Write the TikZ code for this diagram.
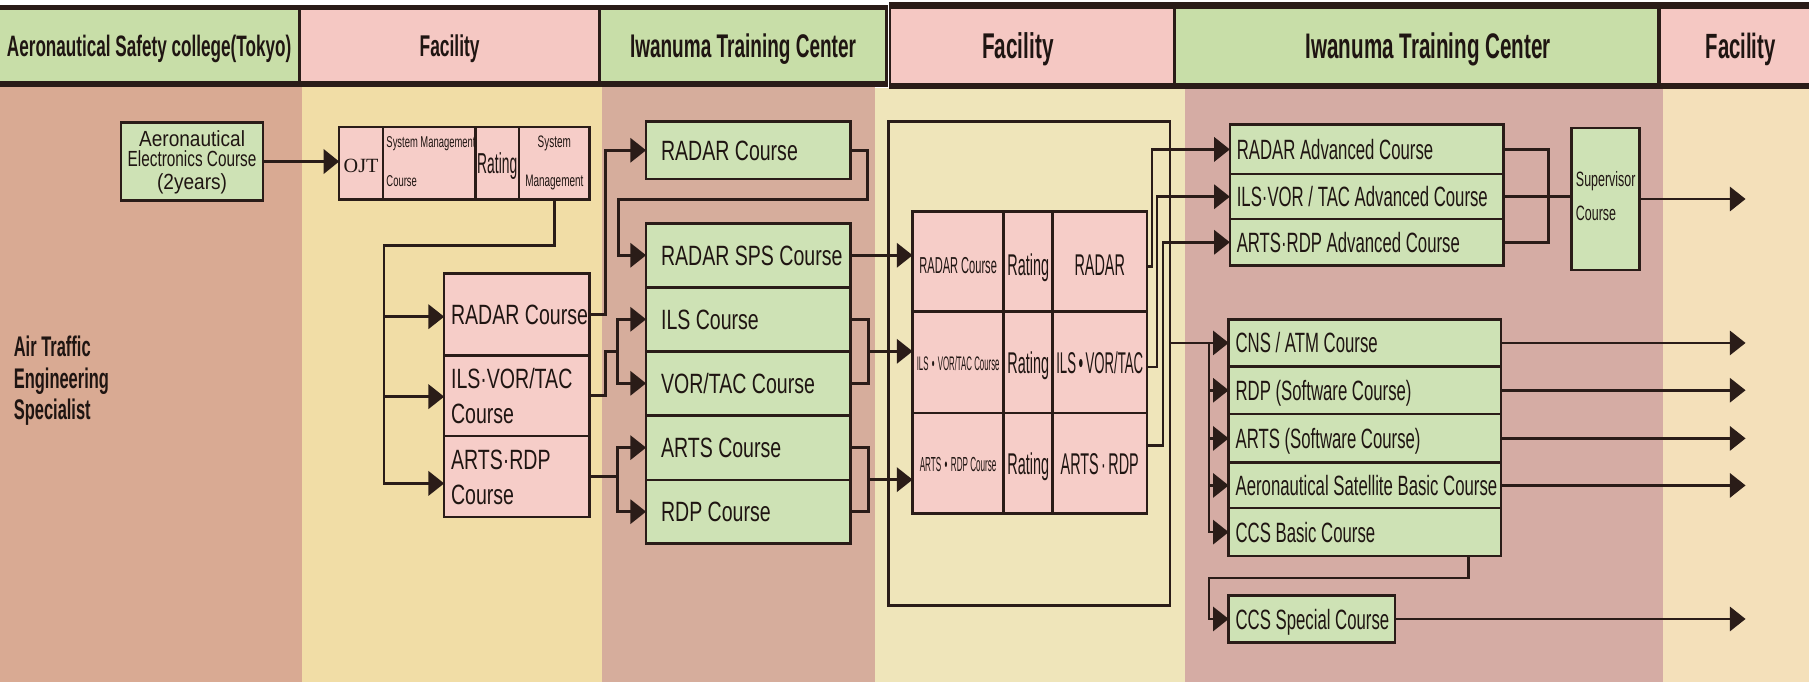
\documentclass[tikz,border=0pt]{standalone}
\usepackage{fontspec}
\setmainfont{Liberation Sans}
\newfontfamily\fA[FakeStretch=0.70]{Liberation Sans}
\newfontfamily\fB[FakeStretch=0.60]{Liberation Sans}
\newfontfamily\fC[FakeStretch=0.48]{Liberation Sans}
\newfontfamily\fD[FakeStretch=0.40]{Liberation Sans}
\newfontfamily\fG[FakeStretch=0.44]{Liberation Sans}
\newfontfamily\fF[FakeStretch=0.87]{Liberation Sans}
\newfontfamily\fH[FakeStretch=0.58]{Liberation Sans}
\newfontfamily\fS{Liberation Serif}
\usetikzlibrary{arrows.meta,calc}
\newcommand\fs[1]{\fontsize{#1}{#1}\selectfont}
\definecolor{bgA}{HTML}{D9AA93}
\definecolor{bgB}{HTML}{F1DDA6}
\definecolor{bgC}{HTML}{D6AD9C}
\definecolor{bgD}{HTML}{EFE5BA}
\definecolor{bgE}{HTML}{D5ACA4}
\definecolor{bgF}{HTML}{F4E0BA}
\definecolor{hg}{HTML}{C8DEA8}
\definecolor{hp}{HTML}{F5C8C3}
\definecolor{gf}{HTML}{CEE2B5}
\definecolor{pf}{HTML}{F6CDC8}
\definecolor{lc}{HTML}{2A1C18}
\definecolor{tc}{HTML}{1F1512}
\newcommand\bx[6]{\node[#6, minimum width={(#4-#2)*0.5pt}, minimum height={(#5-#3)*0.5pt}] (#1) at ({(#2+#4)/2},{(#3+#5)/2}) {};}
\newcommand\tx[5]{\node[t,anchor=#2,font=#3] (#1) at (#4) {#5};}
\begin{document}
\begin{tikzpicture}[x=0.5pt,y=-0.5pt,
  box/.style={draw=lc, line width=1.1pt, inner sep=0pt, outer sep=0pt, rectangle},
  gbox/.style={box, fill=gf},
  pbox/.style={box, fill=pf},
  hbox/.style={inner sep=0pt, outer sep=0pt, rectangle},
  t/.style={inner sep=0pt, outer sep=0pt, text=tc},
  ln/.style={draw=lc, line width=1.1pt},
  arr/.style={ln, -{Triangle[length=6.8pt,width=10.5pt]}}]
\useasboundingbox (0,0) rectangle (1568,595.5);
\fill[white] (0,0) rectangle (1568,595.5);
% body columns
\fill[bgA] (0,75) rectangle (262,591);
\fill[bgB] (262,75) rectangle (522,591);
\fill[bgC] (522,75) rectangle (758,591);
\fill[bgD] (758,76) rectangle (1027,591);
\fill[bgE] (1027,76) rectangle (1441,591);
\fill[bgF] (1441,76) rectangle (1568,591);
% header bands
\fill[lc] (0,4) rectangle (769.5,75);
\fill[lc] (770.5,2) rectangle (1568,77);
\bx{h1}{0}{9}{258.5}{70}{hbox,fill=hg}
\bx{h2}{261}{9}{518.5}{70}{hbox,fill=hp}
\bx{h3}{521}{9}{767}{70}{hbox,fill=hg}
\bx{h4}{772}{8}{1016.5}{72}{hbox,fill=hp}
\bx{h5}{1019.5}{8}{1436.5}{72}{hbox,fill=hg}
\bx{h6}{1439.5}{8}{1568}{72}{hbox,fill=hp}
\tx{ht1}{base}{\fH\bfseries\fs{12.8}}{$(h1.center)+(0,9.2)$}{Aeronautical Safety college(Tokyo)}
\tx{ht2}{base}{\fH\bfseries\fs{13}}{$(h2.center)+(0,9.3)$}{Facility}
\tx{ht3}{base}{\fH\bfseries\fs{14.2}}{$(h3.center)+(0,10.2)$}{Iwanuma Training Center}
\tx{ht4}{base}{\fH\bfseries\fs{15.5}}{$(h4.center)+(-12,11.1)$}{Facility}
\tx{ht5}{base}{\fH\bfseries\fs{15.4}}{$(h5.center)+(10,11.1)$}{Iwanuma Training Center}
\tx{ht6}{base}{\fH\bfseries\fs{15.2}}{$(h6.center)+(5,11.1)$}{Facility}
% left label
\tx{lab1}{base west}{\fH\bfseries\fs{12.3}}{12,309}{Air Traffic}
\tx{lab2}{base west}{\fH\bfseries\fs{12.3}}{12,336.5}{Engineering}
\tx{lab3}{base west}{\fH\bfseries\fs{12.3}}{12,364}{Specialist}
% frame
\bx{frame}{770}{105.5}{1014}{525}{box}
% aeronautical electronics course
\bx{aec}{105}{106}{228}{174}{gbox}
\tx{ae1}{base}{\fF\fs{9.5}}{$(aec.north)+(0,21)$}{Aeronautical}
\tx{ae2}{base}{\fA\fs{9.5}}{$(aec.north)+(0,38.5)$}{Electronics Course}
\tx{ae3}{base}{\fF\fs{9.5}}{$(aec.north)+(0,58.5)$}{(2years)}
% OJT row
\bx{o1}{294}{110}{332}{173}{pbox}
\bx{o2}{332}{110}{412}{173}{pbox}
\bx{o3}{412}{110}{450}{173}{pbox}
\bx{o4}{450}{110}{511}{173}{pbox}
\tx{ot1}{base}{\fS\fs{8.75}}{$(o1.center)+(0,8)$}{OJT}
\tx{ot2}{base west}{\fB\fs{6.8}}{$(o2.north west)+(3,18)$}{System Management}
\tx{ot3}{base west}{\fB\fs{6.8}}{$(o2.north west)+(3,52)$}{Course}
\tx{ot4}{base}{\fC\fs{12.5}}{$(o3.center)+(0,8.8)$}{Rating}
\tx{ot5}{base}{\fB\fs{7.2}}{$(o4.north)+(0,18)$}{System}
\tx{ot6}{base}{\fB\fs{7.2}}{$(o4.north)+(0,52)$}{Management}
% pink stack
\bx{pr1}{385}{237}{511}{308}{pbox}
\bx{pr2}{385}{308}{511}{378}{pbox}
\bx{pr3}{385}{378}{511}{448}{pbox}
\tx{pt1}{base west}{\fA\fs{12.1}}{$(pr1.west)+(6,9)$}{RADAR Course}
\tx{pt2}{base west}{\fA\fs{12.1}}{391,336.5}{ILS·VOR/TAC}
\tx{pt3}{base west}{\fA\fs{12.1}}{391,367}{Course}
\tx{pt4}{base west}{\fA\fs{12.1}}{391,407}{ARTS·RDP}
\tx{pt5}{base west}{\fA\fs{12.1}}{391,437.5}{Course}
% column 2 green
\bx{g0}{560}{105.5}{737}{155}{gbox}
\bx{g1}{560}{193.5}{737}{249}{gbox}
\bx{g2}{560}{249}{737}{304.5}{gbox}
\bx{g3}{560}{304.5}{737}{360}{gbox}
\bx{g4}{560}{360}{737}{416}{gbox}
\bx{g5}{560}{416}{737}{471}{gbox}
\tx{gt0}{base west}{\fA\fs{12.1}}{$(g0.west)+(13,8.7)$}{RADAR Course}
\tx{gt1}{base west}{\fA\fs{12.1}}{$(g1.west)+(13,8.7)$}{RADAR SPS Course}
\tx{gt2}{base west}{\fA\fs{12.1}}{$(g2.west)+(13,8.7)$}{ILS Course}
\tx{gt3}{base west}{\fA\fs{12.1}}{$(g3.west)+(13,8.7)$}{VOR/TAC Course}
\tx{gt4}{base west}{\fA\fs{12.1}}{$(g4.west)+(13,8.7)$}{ARTS Course}
\tx{gt5}{base west}{\fA\fs{12.1}}{$(g5.west)+(13,8.7)$}{RDP Course}
% rating table
\bx{t11}{791}{183.5}{870}{270}{pbox}
\bx{t12}{870}{183.5}{912.5}{270}{pbox}
\bx{t13}{912.5}{183.5}{994}{270}{pbox}
\bx{t21}{791}{270}{870}{358}{pbox}
\bx{t22}{870}{270}{912.5}{358}{pbox}
\bx{t23}{912.5}{270}{994}{358}{pbox}
\bx{t31}{791}{358}{870}{445}{pbox}
\bx{t32}{870}{358}{912.5}{445}{pbox}
\bx{t33}{912.5}{358}{994}{445}{pbox}
\tx{tt11}{base}{\fC\fs{10}}{$(t11.center)+(0,10)$}{RADAR Course}
\tx{tt12}{base}{\fC\fs{13}}{$(t12.center)+(0,12)$}{Rating}
\tx{tt13}{base}{\fC\fs{13}}{$(t13.center)+(0,12)$}{RADAR}
\tx{tt21}{base}{\fD\fs{8.5}}{$(t21.center)+(0,7.5)$}{ILS\,•\,VOR/TAC Course}
\tx{tt22}{base}{\fC\fs{13}}{$(t22.center)+(0,9.5)$}{Rating}
\tx{tt23}{base}{\fG\fs{13}}{$(t23.center)+(0,9.5)$}{ILS\kern0.08em•\kern0.08em VOR/TAC}
\tx{tt31}{base}{\fD\fs{8.8}}{$(t31.center)+(0,7)$}{ARTS\,•\,RDP Course}
\tx{tt32}{base}{\fC\fs{13}}{$(t32.center)+(0,9.5)$}{Rating}
\tx{tt33}{base}{\fC\fs{13}}{$(t33.center)+(0,9.5)$}{ARTS\kern0.08em·\kern0.08em RDP}
% advanced courses
\bx{a1}{1066}{108}{1303}{151}{gbox}
\bx{a2}{1066}{151}{1303}{190}{gbox}
\bx{a3}{1066}{190}{1303}{230}{gbox}
\tx{at1}{base west}{\fB\fs{12.1}}{$(a1.west)+(6,8.7)$}{RADAR Advanced Course}
\tx{at2}{base west}{\fB\fs{12.1}}{$(a2.west)+(6,8.7)$}{ILS·VOR\,/\,TAC Advanced Course}
\tx{at3}{base west}{\fB\fs{12.1}}{$(a3.west)+(6,8.7)$}{ARTS·RDP Advanced Course}
\bx{sup}{1362}{111}{1421}{234}{gbox}
\tx{st1}{base west}{\fB\fs{9}}{1366,161.5}{Supervisor}
\tx{st2}{base west}{\fB\fs{9}}{1366,191.5}{Course}
% basic courses
\bx{c1}{1065}{277}{1301}{317.5}{gbox}
\bx{c2}{1065}{317.5}{1301}{359}{gbox}
\bx{c3}{1065}{359}{1301}{401}{gbox}
\bx{c4}{1065}{401}{1301}{440.5}{gbox}
\bx{c5}{1065}{440.5}{1301}{482}{gbox}
\bx{cs}{1065}{516}{1209}{557}{gbox}
\tx{ct1}{base west}{\fB\fs{12.1}}{$(c1.west)+(6,8.7)$}{CNS\,/\,ATM Course}
\tx{ct2}{base west}{\fB\fs{12.1}}{$(c2.west)+(6,8.7)$}{RDP\,(Software Course)}
\tx{ct3}{base west}{\fB\fs{12.1}}{$(c3.west)+(6,8.7)$}{ARTS\,(Software Course)}
\tx{ct4}{base west}{\fB\fs{12.1}}{$(c4.west)+(6,8.7)$}{Aeronautical Satellite Basic Course}
\tx{ct5}{base west}{\fB\fs{12.1}}{$(c5.west)+(6,8.7)$}{CCS Basic Course}
\tx{ct6}{base west}{\fB\fs{12.1}}{$(cs.west)+(6,8.7)$}{CCS Special Course}
% connectors
\draw[arr, line width=1.6pt] (aec.east |- 0,140) -- (o1.west |- 0,140);
\coordinate (j1) at (333,213);
\draw[arr] (o4.south) |- (j1) -- (j1 |- 0,419) -- (pr3.west |- 0,419);
\draw[arr] (j1 |- 0,274.5) -- (pr1.west |- 0,274.5);
\draw[arr] (j1 |- 0,343.8) -- (pr2.west |- 0,343.8);
\draw[arr] (pr1.east) -- ++(14,0) |- (g0.west);
\draw[arr] (g0.east) -- ++(15,0) |- ($(g1.west)+(-24,-48.5)$) |- (g1.west);
\coordinate (b1) at ($(g2.west)!0.5!(g3.west)+(-25,0)$);
\draw[ln] (pr2.east) -- ++(14,0) |- (b1);
\draw[arr] (b1) |- (g2.west);
\draw[arr] (b1) |- (g3.west);
\coordinate (b2) at ($(g4.west)!0.5!(g5.west)+(-25,0)$);
\draw[ln] (pr3.east) -- (b2 |- pr3.east);
\draw[arr] (b2 |- pr3.east) |- (g4.west);
\draw[arr] (b2 |- pr3.east) |- (g5.west);
\draw[arr] (g1.east) -- (g1.east -| t11.west);
\draw[ln] (g2.east) -- ++(16,0) |- (g3.east);
\coordinate (m1) at ($(g2.east)!0.5!(g3.east)+(16,0)$);
\draw[arr] (m1) -- (m1 -| t21.west);
\draw[ln] (g4.east) -- ++(16,0) |- (g5.east);
\coordinate (m2) at ($(g4.east)!0.5!(g5.east)+(16,0)$);
\draw[arr] (m2) -- (m2 -| t31.west);
\draw[arr] (t13.east |- 0,231) -- ++(4.5,0) |- (a1.west);
\draw[arr] (t23.east |- 0,318) -- ++(9,0) |- (a2.west);
\draw[arr] (t33.east |- 0,386) -- ++(14,0) |- (a3.west);
\draw[ln] (a1.east) -- ++(39,0) |- (a3.east);
\draw[ln] (a2.east) -- (a2.east -| sup.west);
\coordinate (endx) at (1513,0);
\draw[arr] (sup.east) -- (sup.east -| endx);
\draw[arr] (frame.east |- c1.west) -- (c1.west);
\coordinate (bus) at ($(c1.west)+(-17,0)$);
\draw[arr] (bus) |- (c2.west);
\draw[arr] (bus) |- (c3.west);
\draw[arr] (bus) |- (c4.west);
\draw[arr] (bus) |- (c5.west);
\draw[arr] (c1.east) -- (c1.east -| endx);
\draw[arr] (c2.east) -- (c2.east -| endx);
\draw[arr] (c3.east) -- (c3.east -| endx);
\draw[arr] (c4.east) -- (c4.east -| endx);
\draw[arr] (c5.south -| 1273,0) -- ++(0,19) -| (bus |- cs.west) -- (cs.west);
\draw[arr] (cs.east) -- (cs.east -| endx);
\end{tikzpicture}
\end{document}
